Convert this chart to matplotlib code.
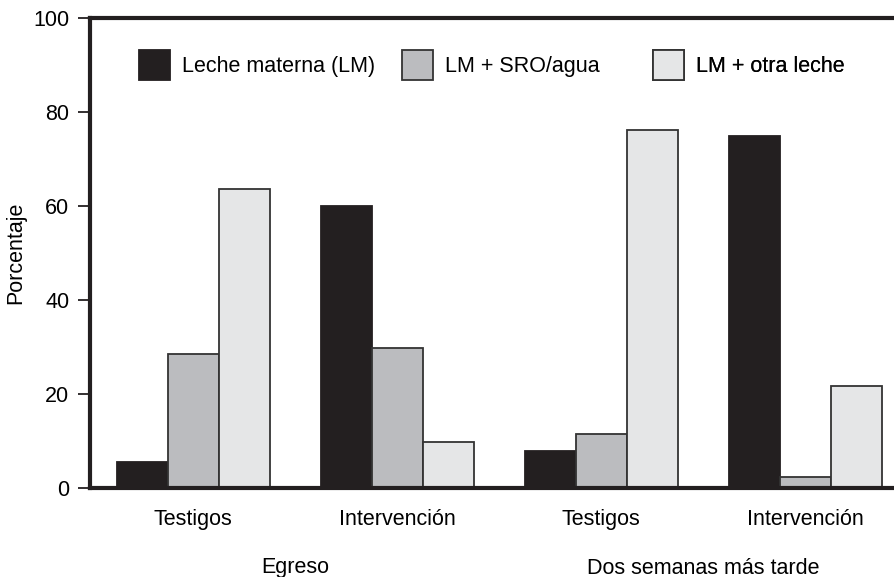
import matplotlib.pyplot as plt
from matplotlib.transforms import blended_transform_factory
import numpy as np

plt.rcParams['font.family'] = ['Liberation Sans', 'DejaVu Sans']

grupos = ['Testigos', 'Intervención', 'Testigos', 'Intervención']
periodos = ['Egreso', 'Dos semanas más tarde']
series = ['Leche materna (LM)', 'LM + SRO/agua', 'LM + otra leche']
lm = [5.5, 60.0, 7.8, 74.8]
lm_sro = [28.5, 29.8, 11.5, 2.3]
lm_otra = [63.7, 9.8, 76.2, 21.7]

colores = ['#231f20', '#bbbcbf', '#e5e6e7']
bordes = ['#231f20', '#333333', '#333333']
fs = 15.5

fig = plt.figure(figsize=(8.94, 5.77), dpi=100)
ax = fig.add_axes([90 / 894, 1 - 488 / 577, 1 - 90 / 894 + 0.01, 470 / 577])

x = np.arange(len(grupos))
w = 0.25
barras = []
for i, vals in enumerate([lm, lm_sro, lm_otra]):
    b = ax.bar(x + (i - 1) * w, vals, w, color=colores[i],
               edgecolor=bordes[i], linewidth=1.3, zorder=2)
    barras.append(b)

ax.set_xlim(-0.505, 3.48)
ax.set_ylim(0, 100)
ax.set_yticks([0, 20, 40, 60, 80, 100])
ax.set_xticks(x)
ax.set_xticklabels(grupos)
ax.tick_params(axis='x', length=0, pad=15, labelsize=fs)
ax.tick_params(axis='y', length=9, width=1.3, pad=6, labelsize=fs,
               color='#231f20')
for s in ['left', 'top', 'bottom']:
    ax.spines[s].set_linewidth(3)
    ax.spines[s].set_color('#231f20')
ax.spines['right'].set_visible(False)

fig.text(16 / 894, 1 - 253 / 577, 'Porcentaje', rotation=90,
         ha='center', va='center', fontsize=fs)

# etiquetas de periodo bajo cada par de grupos
trans = blended_transform_factory(ax.transData, fig.transFigure)
for j, p in enumerate(periodos):
    ax.text(2 * j + 0.5, 1 - 568 / 577, p, transform=trans,
            ha='center', va='center', fontsize=fs)

# una leyenda por serie para fijar cada posicion
pos = [139, 402, 653]
for i in range(3):
    lg = ax.legend([barras[i]], [series[i]], loc='center left',
                   bbox_to_anchor=(pos[i] / 894, 1 - 65 / 577),
                   bbox_transform=fig.transFigure, frameon=False,
                   fontsize=fs, handlelength=1.45, handleheight=1.8,
                   handletextpad=0.55, borderpad=0, borderaxespad=0)
    ax.add_artist(lg)

fig.savefig('out.png', dpi=100)
